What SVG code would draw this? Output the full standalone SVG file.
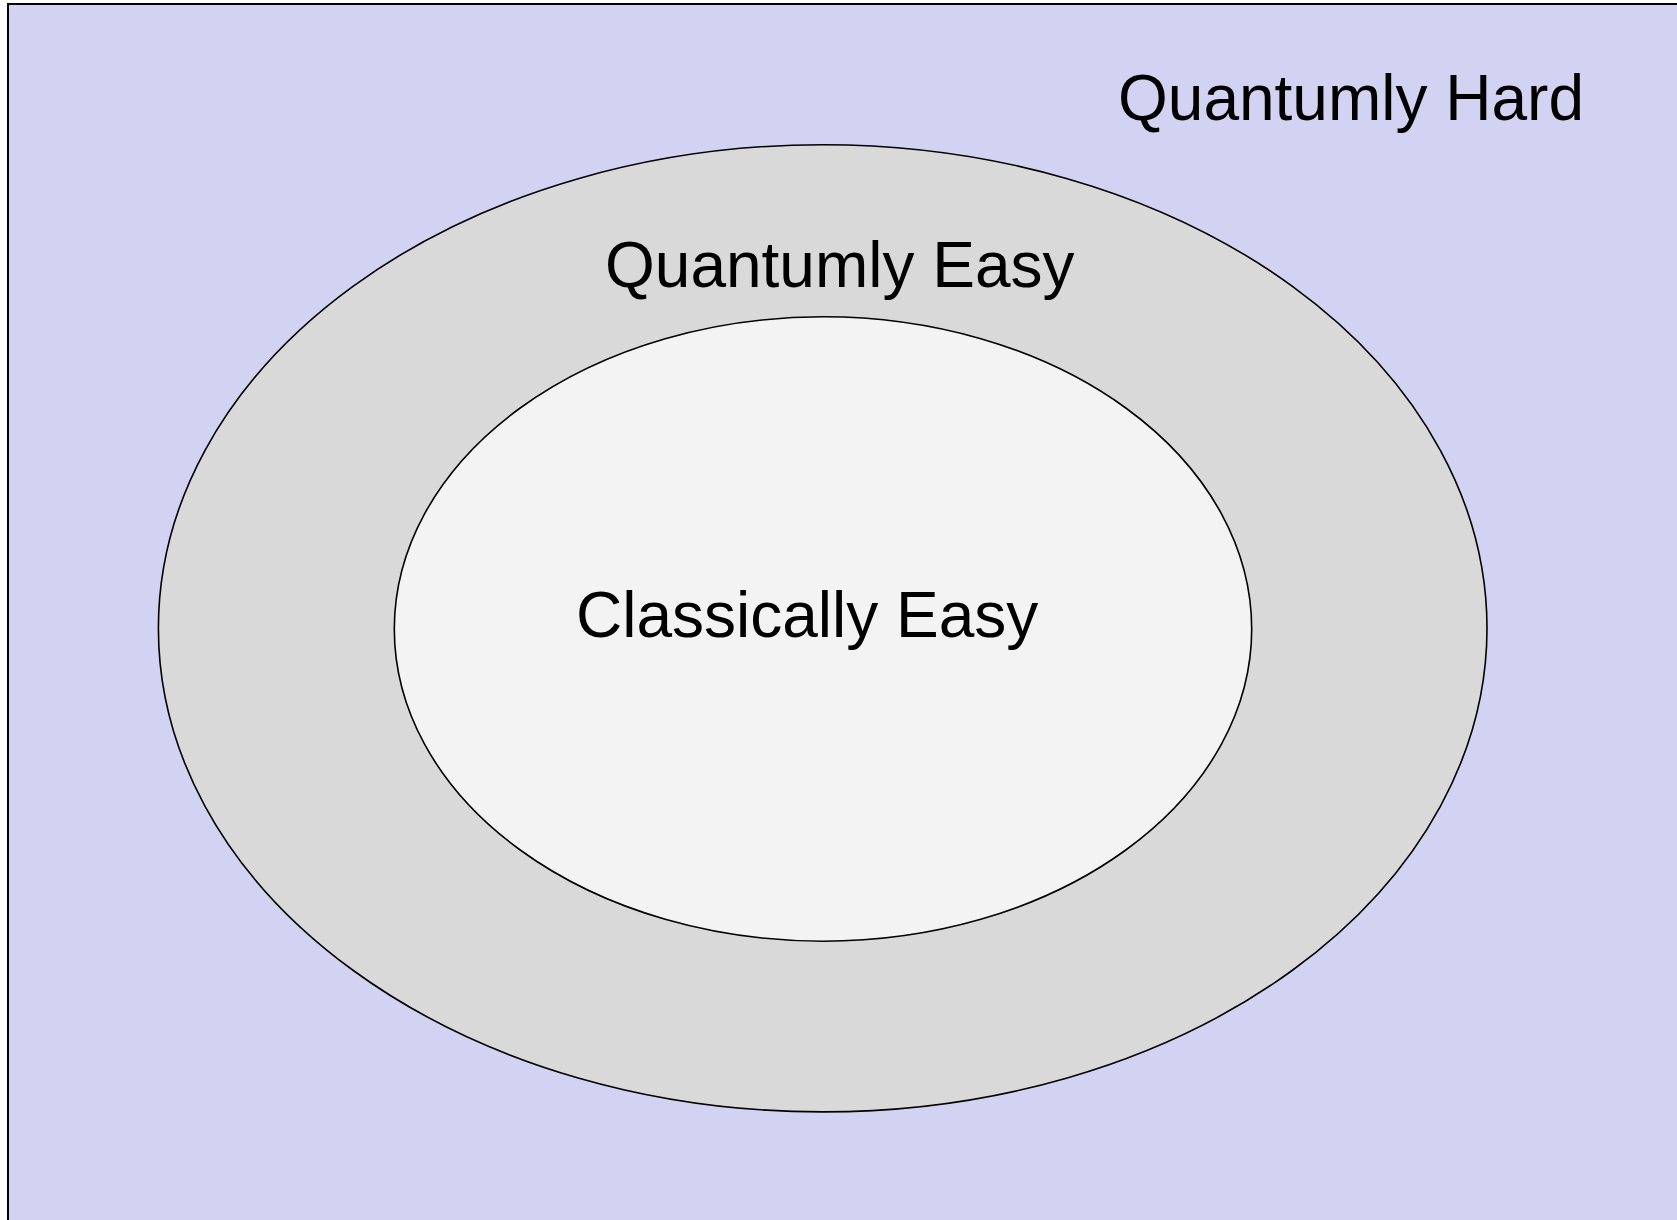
<svg xmlns="http://www.w3.org/2000/svg" width="1677" height="1220" viewBox="0 0 1677 1220">
<style>
.lbl{font-family:"Liberation Sans",Arial,sans-serif;font-size:64px;fill:#000}
.ell{stroke:#000;stroke-width:1.6}
</style>
<rect x="0" y="0" width="1677" height="1220" fill="#ffffff"/>
<g id="quantumly-hard">
<rect x="8" y="4" width="1680" height="1230" fill="#d2d2f3" stroke="#000" stroke-width="2"/>
<text class="lbl" x="1118" y="120">Quantumly Hard</text>
</g>
<g id="quantumly-easy">
<ellipse class="ell" cx="822.7" cy="628.3" rx="664.3" ry="483.6" fill="#d9d9d9"/>
<text class="lbl" x="605" y="287">Quantumly Easy</text>
</g>
<g id="classically-easy">
<ellipse class="ell" cx="823" cy="629" rx="428.7" ry="312.2" fill="#f3f3f3"/>
<text class="lbl" x="576" y="637">Classically Easy</text>
</g>
<g id="connectors"></g>
</svg>
